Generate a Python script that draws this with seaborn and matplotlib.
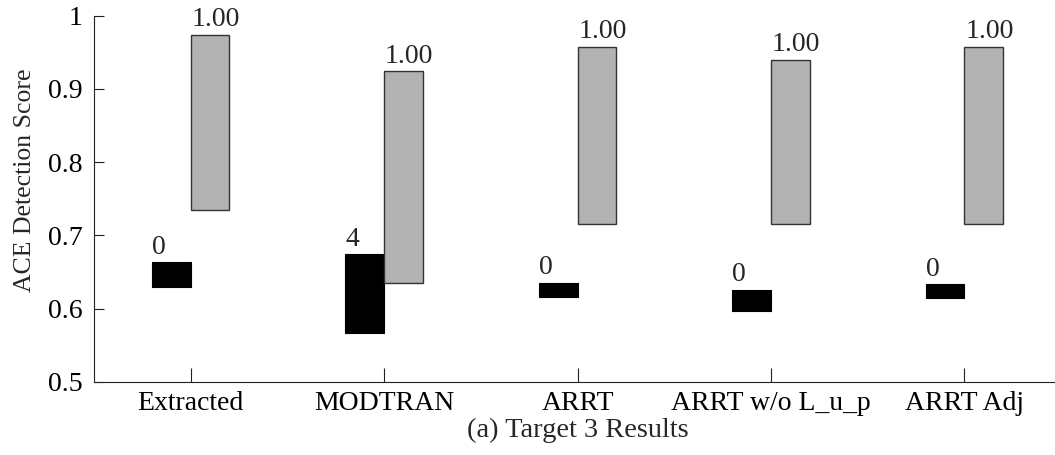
import matplotlib
matplotlib.use("Agg")
import matplotlib.pyplot as plt
import numpy as np
import seaborn as sns

CATEGORIES = ["Extracted", "MODTRAN", "ARRT", "ARRT w/o L_u_p", "ARRT Adj"]

# black bars (background range), grey bars (target range)
BG_LOW = [0.630, 0.566, 0.616, 0.597, 0.614]
BG_HIGH = [0.663, 0.674, 0.635, 0.625, 0.633]
TGT_LOW = [0.735, 0.635, 0.716, 0.716, 0.716]
TGT_HIGH = [0.974, 0.924, 0.957, 0.940, 0.957]

BG_LABELS = ["0", "4", "0", "0", "0"]
TGT_LABELS = ["1.00", "1.00", "1.00", "1.00", "1.00"]

sns.set_style("ticks")
plt.rcParams["font.family"] = ["Liberation Serif", "DejaVu Serif"]

FS_TICK, FS_BAR, FS_LABEL, FS_YLABEL = 20, 20, 20.5, 18.5

fig = plt.figure(figsize=(10.55, 4.55), dpi=100)
ax = fig.add_axes([94 / 1055, 1 - 381.7 / 455, (1061 - 94) / 1055, (381.7 - 15.7) / 455])

pos = np.arange(1, len(CATEGORIES) + 1)
bg_lo, bg_hi = np.array(BG_LOW), np.array(BG_HIGH)
tg_lo, tg_hi = np.array(TGT_LOW), np.array(TGT_HIGH)

sns.barplot(x=pos - 0.1, y=bg_hi - bg_lo, bottom=bg_lo, native_scale=True,
            width=0.2, color="black", saturation=1, errorbar=None,
            edgecolor="black", linewidth=0.8, ax=ax)
sns.barplot(x=pos + 0.1, y=tg_hi - tg_lo, bottom=tg_lo, native_scale=True,
            width=0.2, color="#b3b3b3", saturation=1, errorbar=None,
            edgecolor="#333333", linewidth=1.0, ax=ax)

for p, h, lab in zip(pos, bg_hi, BG_LABELS):
    ax.text(p - 0.2, h + 0.012, lab, fontsize=FS_BAR, ha="left", va="baseline")
for p, h, lab in zip(pos, tg_hi, TGT_LABELS):
    ax.text(p + 0.005, h + 0.012, lab, fontsize=FS_BAR, ha="left", va="baseline")

ax.set_xlim(0.5, 5.5)
ax.set_ylim(0.5, 1.0)
ax.set_xticks(pos)
ax.set_xticklabels(CATEGORIES, fontsize=FS_TICK)
ax.set_yticks([0.5, 0.6, 0.7, 0.8, 0.9, 1.0])
ax.set_yticklabels(["0.5", "0.6", "0.7", "0.8", "0.9", "1"], fontsize=FS_TICK)
ax.tick_params(axis="y", direction="in", length=7, width=0.8, pad=8, colors="#222222", labelcolor="black")
ax.tick_params(axis="x", direction="in", length=10, width=0.8, pad=7, colors="#222222", labelcolor="black")
sns.despine(ax=ax)
for s in ("left", "bottom"):
    ax.spines[s].set_linewidth(0.8)
    ax.spines[s].set_color("#222222")

ax.set_ylabel("ACE Detection Score", fontsize=FS_YLABEL)
ax.yaxis.set_label_coords(-0.06, 0.551)
ax.set_xlabel("(a) Target 3 Results", fontsize=FS_LABEL, labelpad=1)

fig.savefig("out.png", dpi=100)
